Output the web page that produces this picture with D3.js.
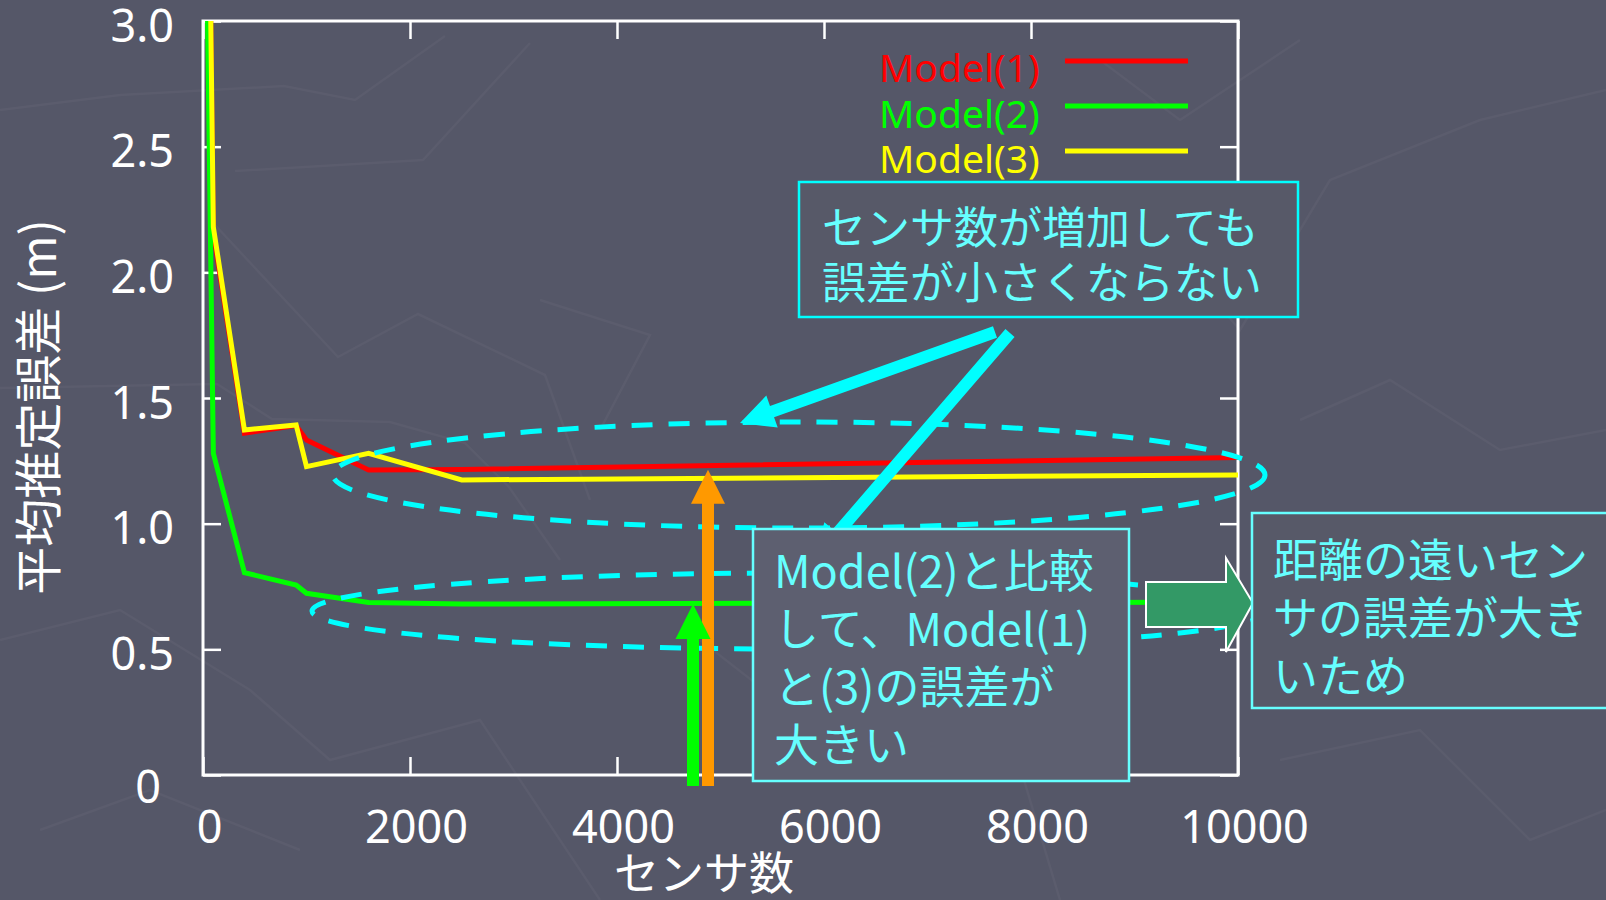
<!DOCTYPE html>
<html><head><meta charset="utf-8">
<script src="https://cdn.jsdelivr.net/npm/d3@7"></script>
<style>
html,body{margin:0;padding:0;background:#555768;overflow:hidden}
svg{display:block}
</style></head><body>
<svg id="chart" width="1606" height="900"></svg>
<script>
// Sensor counts and mean estimation error (m) per model
const sensorCounts = [25, 100, 400, 900, 1000, 1600, 2500, 10000];
const model1 = [4.64, 2.16, 1.36, 1.39, 1.333, 1.214, 1.216, 1.263];
const model2 = [3.58, 1.28, 0.805, 0.756, 0.723, 0.686, 0.68, 0.688];
const model3 = [4.64, 2.18, 1.373, 1.393, 1.227, 1.28, 1.174, 1.194];
const seriesNames = ["Model(1)", "Model(2)", "Model(3)"];
const seriesColors = ["#ff0000", "#00ff00", "#ffff00"];
const xTicks = [0, 2000, 4000, 6000, 8000, 10000];
const yTicks = [0, 0.5, 1.0, 1.5, 2.0, 2.5, 3.0];
const xTitle = "センサ数";
const yTitle = "平均推定誤差 (m)";
const note1 = ["センサ数が増加しても", "誤差が小さくならない"];
const note2 = ["Model(2)と比較", "して、Model(1)", "と(3)の誤差が", "大きい"];
const note3 = ["距離の遠いセン", "サの誤差が大き", "いため"];

const LATIN = '"Noto Sans", "Noto Sans CJK JP", sans-serif';
const CJK = '"Noto Sans CJK JP", "Noto Sans", sans-serif';

const svg = d3.select("#chart");
const W = 1606, H = 900;
const plot = {left: 203, right: 1238, top: 21, bottom: 775};

svg.append("rect").attr("width", W).attr("height", H).attr("fill", "#555768");

// faint background texture
const deco = [
  [[0,110],[120,95],[284,86],[355,100],[445,36]],
  [[235,171],[423,160],[530,43]],
  [[215,225],[338,357],[418,314],[545,375],[590,500]],
  [[0,388],[217,384],[272,419],[390,422],[465,443],[509,487],[560,560]],
  [[540,300],[650,335],[600,430]],
  [[1040,300],[1180,260],[1240,330],[1330,180],[1480,120],[1606,90]],
  [[700,640],[880,780],[1000,700],[1060,900]],
  [[0,640],[120,610],[250,690],[330,760],[480,720],[600,900]],
  [[1280,760],[1420,730],[1530,840],[1606,810]],
  [[1300,420],[1390,380],[1500,450],[1606,430]],
  [[40,830],[150,790],[300,850]],
  [[1100,60],[1180,120],[1300,40]]
];
svg.append("g").selectAll("path").data(deco).join("path")
  .attr("d", d3.line())
  .attr("fill", "none").attr("stroke", "#ffffff").attr("stroke-opacity", 0.035)
  .attr("stroke-width", 2.5);

const x = d3.scaleLinear().domain([0, 10000]).range([plot.left, plot.right]);
const y = d3.scaleLinear().domain([0, 3]).range([plot.bottom, plot.top]);

// axes: ticks point inward on all four sides
const tickLen = 18;
const styleAxis = g => {
  g.select(".domain").remove();
  g.selectAll(".tick line").attr("stroke", "#ffffff").attr("stroke-width", 2.5);
  g.selectAll("text").attr("fill", "#ffffff").style("font-family", LATIN).style("font-size", "45px");
};
const xAxisG = svg.append("g").attr("transform", `translate(0,${plot.bottom})`)
  .call(d3.axisBottom(x).tickValues(xTicks).tickSize(-tickLen).tickPadding(36).tickFormat(d3.format("d")))
  .call(styleAxis);
xAxisG.selectAll("text").attr("dx", 6);
svg.append("g").attr("transform", `translate(0,${plot.top})`)
  .call(d3.axisTop(x).tickValues(xTicks).tickSize(-tickLen).tickFormat(""))
  .call(styleAxis);
const yFmt = d => d === 0 ? "0" : d3.format(".1f")(d);
const yAxisG = svg.append("g").attr("transform", `translate(${plot.left},0)`)
  .call(d3.axisLeft(y).tickValues(yTicks).tickSize(-tickLen).tickPadding(29).tickFormat(yFmt))
  .call(styleAxis);
yAxisG.selectAll("text").attr("dy", "0.45em");
yAxisG.selectAll(".tick").filter(d => d === 0).select("text").attr("dx", -13).attr("dy", "0.6em");
svg.append("g").attr("transform", `translate(${plot.right},0)`)
  .call(d3.axisRight(y).tickValues(yTicks).tickSize(-tickLen).tickFormat(""))
  .call(styleAxis);

// frame
svg.append("rect")
  .attr("x", plot.left).attr("y", plot.top)
  .attr("width", plot.right - plot.left).attr("height", plot.bottom - plot.top)
  .attr("fill", "none").attr("stroke", "#ffffff").attr("stroke-width", 3);

// titles
svg.append("text").attr("x", 704).attr("y", 890).attr("text-anchor", "middle")
  .attr("fill", "#ffffff").style("font-family", CJK).style("font-size", "45px").text(xTitle);
svg.append("text").attr("transform", "translate(39,407) rotate(-90)")
  .attr("text-anchor", "middle").attr("dy", "0.36em")
  .attr("fill", "#ffffff").style("font-family", CJK).style("font-size", "48px").text(yTitle);

// data lines
svg.append("clipPath").attr("id", "plotClip").append("rect")
  .attr("x", plot.left).attr("y", plot.top)
  .attr("width", plot.right - plot.left).attr("height", plot.bottom - plot.top);
const series = [model1, model2, model3].map((vals, i) => ({
  name: seriesNames[i], color: seriesColors[i],
  points: sensorCounts.map((c, j) => [c, vals[j]])
}));
const line = d3.line().x(d => x(d[0])).y(d => y(d[1]));
svg.append("g").attr("clip-path", "url(#plotClip)")
  .selectAll("path").data(series).join("path")
  .attr("d", d => line(d.points))
  .attr("fill", "none").attr("stroke", d => d.color)
  .attr("stroke-width", 5).attr("stroke-linejoin", "miter");

// legend
const legend = svg.append("g").selectAll("g").data(series).join("g");
legend.append("text")
  .attr("x", 879).attr("y", (d, i) => 82 + i * 45.5)
  .attr("fill", d => d.color).style("font-family", LATIN).style("font-size", "39px")
  .text(d => d.name);
legend.append("line")
  .attr("x1", 1065).attr("x2", 1188)
  .attr("y1", (d, i) => 61 + i * 45).attr("y2", (d, i) => 61 + i * 45)
  .attr("stroke", d => d.color).attr("stroke-width", 5);

// dashed ellipses around groups of curves
const ellipses = [
  {cx: 799, cy: 475, rx: 466, ry: 53},
  {cx: 790, cy: 611, rx: 478, ry: 38}
];
svg.append("g").selectAll("ellipse").data(ellipses).join("ellipse")
  .attr("cx", d => d.cx).attr("cy", d => d.cy).attr("rx", d => d.rx).attr("ry", d => d.ry)
  .attr("fill", "none").attr("stroke", "#00ffff").attr("stroke-width", 5)
  .attr("stroke-dasharray", "21 16");

// arrow polygon from tail to tip
function arrow(x0, y0, x1, y1, w, hl, hw) {
  const dx = x1 - x0, dy = y1 - y0, L = Math.hypot(dx, dy);
  const ux = dx / L, uy = dy / L, px = -uy, py = ux;
  const bx = x1 - ux * hl, by = y1 - uy * hl;
  const p = [
    [x0 + px * w / 2, y0 + py * w / 2],
    [bx + px * w / 2, by + py * w / 2],
    [bx + px * hw, by + py * hw],
    [x1, y1],
    [bx - px * hw, by - py * hw],
    [bx - px * w / 2, by - py * w / 2],
    [x0 - px * w / 2, y0 - py * w / 2]
  ];
  return "M" + p.map(q => q.join(",")).join("L") + "Z";
}

// cyan pointers
svg.append("path").attr("d", arrow(995, 332, 740, 423, 12, 34, 17)).attr("fill", "#00ffff");
svg.append("path").attr("d", arrow(1010, 333, 815, 559, 12, 34, 17)).attr("fill", "#00ffff");

// vertical gap markers
svg.append("path").attr("d", arrow(708, 786, 708, y(1.215), 12, 34, 17)).attr("fill", "#ff9900");
svg.append("path").attr("d", arrow(693, 786, 693, y(0.68), 12, 35, 17.5)).attr("fill", "#00ff00");

// note boxes
function noteBox(bx, by, bw, bh, fill, stroke, lines, tx, ty0, lh, size) {
  const g = svg.append("g");
  g.append("rect").attr("x", bx).attr("y", by).attr("width", bw).attr("height", bh)
    .attr("fill", fill).attr("stroke", stroke).attr("stroke-width", 2.5);
  g.selectAll("text").data(lines).join("text")
    .attr("x", tx).attr("y", (d, i) => ty0 + i * lh)
    .attr("fill", "#66ffff").style("font-family", CJK).style("font-size", size + "px")
    .text(d => d);
}
noteBox(799, 182, 499, 135, "#575968", "#00ffff", note1, 822, 244, 55, 44);
noteBox(753, 529, 376, 252, "#5d5f70", "#66ffff", note2, 774, 588, 58, 45);

// block arrow toward the explanation
svg.append("path")
  .attr("d", "M1146,582 L1226,582 L1226,558 L1253,603 L1226,652 L1226,627 L1146,627 Z")
  .attr("fill", "#339966").attr("stroke", "#ffffff").attr("stroke-width", 2);

noteBox(1252, 513, 380, 195, "#575968", "#66ffff", note3, 1273, 577, 58, 45);
</script>
</body></html>
